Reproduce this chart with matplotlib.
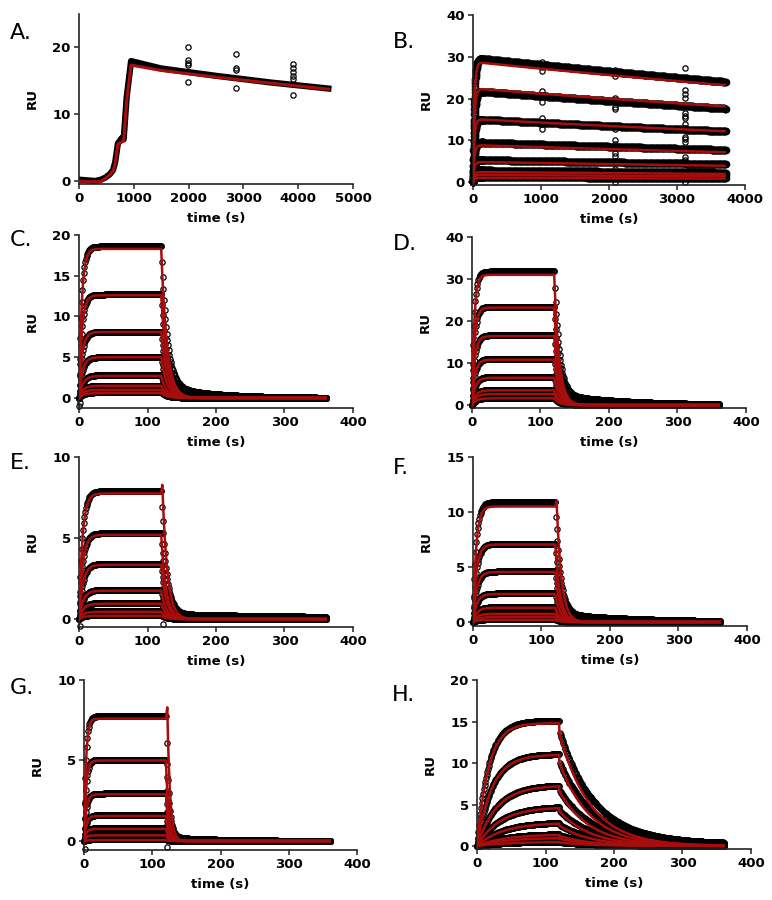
import numpy as np
import matplotlib
matplotlib.use('Agg')
import matplotlib.pyplot as plt

plt.rcParams['font.family'] = ['DejaVu Sans']
plt.rcParams['font.weight'] = 'bold'

RED = '#a80d0d'
W, H = 772, 900

# ---------------- Panel A (single-cycle run, knots) ----------------
a_time = [0, 150, 300, 400, 480, 560, 620, 660, 710, 780, 815, 870, 950, 1500, 2500, 3500, 4550]
a_fit = [0.0, -0.1, -0.1, -0.1, 0.4, 0.9, 1.5, 2.5, 5.5, 5.8, 6.0, 12.0, 17.3, 16.5, 15.5, 14.6, 13.7]
a_data = [0.2, 0.1, 0.0, 0.2, 0.5, 1.0, 1.6, 2.8, 5.6, 6.4, 6.2, 12.5, 17.9, 16.8, 15.7, 14.7, 13.8]
a_out_t = [1980, 1980, 1980, 1980, 1980, 2870, 2870, 2870, 2870, 3900, 3900, 3900, 3900, 3900, 3900]
a_out_v = [20.05, 18.0, 17.6, 17.3, 14.8, 18.9, 16.8, 16.5, 13.9, 17.5, 16.8, 16.3, 15.7, 15.2, 12.8]

# ---------------- Panel B (long dissociation) ----------------
b_fit = [28.6, 22.3, 15.0, 8.8, 4.8, 2.4, 1.7, 1.0]
b_data = [29.6, 21.7, 15.0, 9.5, 5.3, 2.8, 2.0, 1.2]
b_kobs = [0.05, 0.05, 0.05, 0.05, 0.05, 0.05, 0.05, 0.05]
b_koff = 5.8e-5
b_out_t = [1015] * 9 + [2085] * 14 + [3115] * 15
b_out_v = [28.7, 27.6, 26.6, 21.9, 20.9, 19.1, 15.3, 14.5, 12.7,
           26.9, 25.5, 20.2, 19.4, 18.0, 17.4, 13.5, 12.6, 10.0, 9.2, 6.9, 6.3, 3.2, 0.1,
           27.4, 22.1, 21.1, 20.1, 16.5, 15.9, 15.3, 13.9, 12.9, 10.9, 10.3, 9.5, 6.1, 5.3, 0.0]

# ---------------- Panels C-H (120 s association, 240 s dissociation) ----------------
c_fit = [18.3, 12.6, 8.1, 5.0, 2.7, 1.5, 1.0, 0.6]
c_data = [18.6, 12.7, 8.1, 5.0, 2.8, 1.5, 1.0, 0.7]
c_kobs = [0.25, 0.24, 0.22, 0.2, 0.18, 0.17, 0.16, 0.15]
c_koff = 0.12
c_tail = [0.08, 70]
c_out_t = [0, 2]
c_out_v = [-1.0, -0.6]

d_fit = [31.0, 23.2, 16.4, 10.8, 6.5, 3.5, 2.6, 1.6]
d_data = [31.8, 23.4, 16.6, 11.0, 6.7, 3.6, 2.7, 1.7]
d_kobs = [0.3, 0.27, 0.25, 0.23, 0.21, 0.19, 0.18, 0.17]
d_koff = 0.14
d_tail = [0.08, 100]

e_fit = [7.75, 5.2, 3.35, 1.75, 0.95, 0.45, 0.2]
e_data = [7.9, 5.3, 3.4, 1.8, 1.0, 0.5, 0.25]
e_kobs = [0.2, 0.19, 0.18, 0.17, 0.16, 0.16, 0.155]
e_koff = 0.14
e_tail = [0.04, 300]
e_spike = [121.5, 8.4]
e_out_t = [1, 122]
e_out_v = [-0.45, -0.3]

f_fit = [10.5, 7.05, 4.55, 2.55, 1.3, 0.75, 0.45, 0.2]
f_data = [10.9, 7.1, 4.6, 2.6, 1.35, 0.8, 0.5, 0.25]
f_kobs = [0.22, 0.2, 0.19, 0.18, 0.17, 0.165, 0.16, 0.155]
f_koff = 0.14
f_tail = [0.07, 120]
f_spike = [122, 11.0]

g_fit = [7.6, 5.0, 2.9, 1.55, 0.75, 0.35, 0.05]
g_data = [7.75, 5.05, 2.95, 1.6, 0.8, 0.4, 0.1]
g_kobs = [0.35, 0.33, 0.31, 0.3, 0.29, 0.28, 0.27]
g_koff = 0.25
g_tail = [0.03, 80]
g_spike = [122, 8.3]
g_out_t = [1, 121]
g_out_v = [-0.5, -0.35]

h_fit = [14.8, 11.0, 7.3, 4.7, 2.8, 1.4, 1.0, 0.5]
h_data = [15.1, 11.1, 7.4, 4.8, 2.9, 1.5, 1.05, 0.55]
h_kobs = [0.06, 0.046, 0.035, 0.03, 0.027, 0.025, 0.024, 0.023]
h_koff = 0.022
h_koff_data = 0.02
h_jump = 0.08
h_tail = [0.05, 300]

T_OFF = 120.0


def sensorgram(t, level, kobs, koff, t_off=T_OFF, jump=0.0, tail=(0.0, 1.0)):
    r_off = level * (1 - np.exp(-kobs * t_off))
    dt = np.clip(t - t_off, 0, None)
    diss = r_off * (1 - jump) * ((1 - tail[0]) * np.exp(-koff * dt) + tail[0] * np.exp(-dt / tail[1]))
    return np.where(t <= t_off, level * (1 - np.exp(-kobs * t)), diss)


def rect(l, r, t, b):
    return [l / W, 1 - b / H, (r - l) / W, (b - t) / H]


def style(ax, xmax, xticks, ymin, ymax, yticks):
    ax.set_xlim(0, xmax)
    ax.set_ylim(ymin, ymax)
    ax.set_xticks(xticks)
    ax.set_yticks(yticks)
    for s in ['top', 'right']:
        ax.spines[s].set_visible(False)
    for s in ['left', 'bottom']:
        ax.spines[s].set_linewidth(1.2)
        ax.spines[s].set_color('#222222')
    ax.tick_params(direction='out', length=3.5, width=1.1, labelsize=9.5, pad=2.5, color='#222222')
    ax.set_xlabel('time (s)', fontsize=9.5, fontweight='bold', labelpad=5)
    ax.set_ylabel('RU', fontsize=9.5, fontweight='bold', labelpad=10)


fig = plt.figure(figsize=(W / 100, H / 100), dpi=100)
mk = dict(ls='none', marker='o', mfc='none', mec='black', ms=3.8, mew=0.9, clip_on=False, zorder=2)

# Panel A
ax = fig.add_axes(rect(79, 353, 13.5, 184))
ax.plot(a_time, a_data, color='black', lw=4.5, solid_joinstyle='round', zorder=2)
ax.plot(a_out_t, a_out_v, **mk)
ax.plot(a_time, a_fit, color=RED, lw=2.2, zorder=3)
style(ax, 5000, [0, 1000, 2000, 3000, 4000, 5000], -0.45, 25, [0, 10, 20])

# Panel B
ax = fig.add_axes(rect(473, 745, 15, 185))
tb_d = np.concatenate([np.arange(0, 150, 2.0), np.arange(150, 3720, 8.0)])
tb_f = np.concatenate([np.arange(0, 150, 0.5), np.arange(150, 3710, 10.0)])
for lv_d, lv_f, k in zip(b_data, b_fit, b_kobs):
    ax.plot(tb_d, sensorgram(tb_d, lv_d, k, b_koff, t_off=130, tail=(0, 1)), **dict(mk, ms=4.6))
    ax.plot(tb_f, sensorgram(tb_f, lv_f, k, b_koff, t_off=130), color=RED, lw=1.8, zorder=3)
ax.plot(b_out_t, b_out_v, **mk)
style(ax, 4000, [0, 1000, 2000, 3000, 4000], -0.7, 40, [0, 10, 20, 30, 40])

t_data = np.arange(0, 362, 1.0)
t_fit = np.arange(0, 360.01, 0.2)

panels = [
    (rect(79, 353, 235, 408), c_fit, c_data, c_kobs, c_koff, c_koff, c_tail, None, 0.0, (c_out_t, c_out_v), -1.23, 20, [0, 5, 10, 15, 20]),
    (rect(472, 746, 237, 408), d_fit, d_data, d_kobs, d_koff, d_koff, d_tail, None, 0.0, None, -0.7, 40, [0, 10, 20, 30, 40]),
    (rect(79, 353, 457, 627), e_fit, e_data, e_kobs, e_koff, e_koff, e_tail, e_spike, 0.0, (e_out_t, e_out_v), -0.49, 10, [0, 5, 10]),
    (rect(473, 747, 457, 626), f_fit, f_data, f_kobs, f_koff, f_koff, f_tail, f_spike, 0.0, None, -0.36, 15, [0, 5, 10, 15]),
    (rect(84, 357, 680, 850), g_fit, g_data, g_kobs, g_koff, g_koff, g_tail, g_spike, 0.0, (g_out_t, g_out_v), -0.56, 10, [0, 5, 10]),
    (rect(477, 751, 680, 849), h_fit, h_data, h_kobs, h_koff, h_koff_data, h_tail, None, h_jump, None, -0.36, 20, [0, 5, 10, 15, 20]),
]

for (r, fits, datas, kobs, koff, koff_d, tail, spike, jump, outl, y0, y1, yt) in panels:
    ax = fig.add_axes(r)
    for i, (lv_f, lv_d, k) in enumerate(zip(fits, datas, kobs)):
        yd = sensorgram(t_data, lv_d, k, koff_d, jump=jump, tail=tail)
        ax.plot(t_data, yd, **mk)
        if spike is not None and i == 0:
            ta = t_fit[t_fit <= T_OFF]
            td = t_fit[t_fit >= spike[0]]
            ya = sensorgram(ta, lv_f, k, koff)
            ydis = spike[1] * np.exp(-koff * (td - spike[0]))
            tt = np.concatenate([ta, td])
            yy = np.concatenate([ya, ydis])
        else:
            tt = t_fit
            yy = sensorgram(t_fit, lv_f, k, koff, jump=jump)
        ax.plot(tt, yy, color=RED, lw=1.8, zorder=3)
    if outl is not None:
        ax.plot(outl[0], outl[1], **mk)
    style(ax, 400, [0, 100, 200, 300, 400], y0, y1, yt)

letters = [('A.', 10, 33), ('B.', 393, 42), ('C.', 10, 240), ('D.', 393, 244),
           ('E.', 10, 463), ('F.', 393, 468), ('G.', 10, 688), ('H.', 392, 695)]
for s, x, y in letters:
    fig.text(x / W, 1 - y / H, s, fontsize=16, fontweight='normal', ha='left', va='center')

fig.savefig('out.png', dpi=100)
